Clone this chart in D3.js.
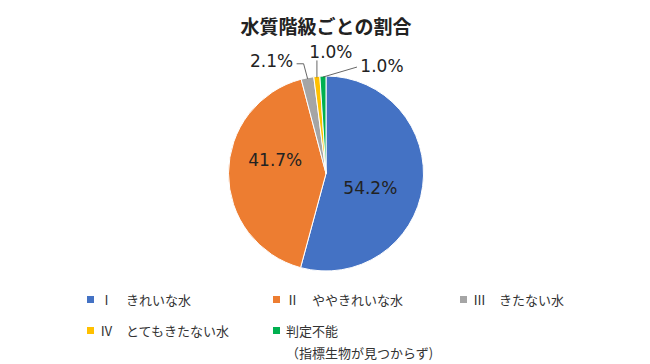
<!DOCTYPE html>
<html>
<head>
<meta charset="utf-8">
<script src="https://cdn.jsdelivr.net/npm/d3@7"></script>
<style>
  body { margin: 0; background: #fff; }
  text { font-family: "Noto Sans CJK JP", "Noto Sans", sans-serif; }
  text.pct { font-family: "DejaVu Sans", sans-serif; font-size: 17px; }
</style>
</head>
<body>
<svg id="chart" width="650" height="364"></svg>
<script>
// chart data
var categories = ["Ⅰ　きれいな水", "Ⅱ　ややきれいな水", "Ⅲ　きたない水", "Ⅳ　とてもきたない水", "判定不能"];
var subNote = ["", "", "", "", "（指標生物が見つからず)"];
var shares = [54.2, 41.7, 2.1, 1.0, 1.0];
var colors = ["#4472c4", "#ed7d31", "#a5a5a5", "#ffc000", "#00b050"];

var width = 650, height = 364;
var cx = 326, cy = 173.5, radius = 97.5;

var svg = d3.select("#chart");

svg.append("text")
  .attr("x", 326).attr("y", 34)
  .attr("text-anchor", "middle")
  .style("font-size", "19px")
  .style("font-weight", "bold")
  .attr("fill", "#222")
  .text("水質階級ごとの割合");

var pie = d3.pie().sort(null).value(d => d);
var arcs = pie(shares);
var arc = d3.arc().innerRadius(0).outerRadius(radius);

var g = svg.append("g").attr("transform", "translate(" + cx + "," + cy + ")");

g.selectAll("path")
  .data(arcs)
  .enter()
  .append("path")
  .attr("d", arc)
  .attr("fill", (d, i) => colors[i])
  .attr("stroke", "#fff")
  .attr("stroke-width", 1);

// inside labels for the big slices
var inner = d3.arc().innerRadius(radius * 0.5).outerRadius(radius * 0.5);
var innerShift = [[-4, 8], [-2, -13]];
g.selectAll("text.inlabel")
  .data(arcs.filter(d => d.value > 10))
  .enter()
  .append("text")
  .attr("class", "inlabel pct")
  .attr("x", (d, i) => inner.centroid(d)[0] + innerShift[i][0])
  .attr("y", (d, i) => inner.centroid(d)[1] + innerShift[i][1])
  .attr("text-anchor", "middle")
  .attr("dy", "0.35em")
  .attr("fill", "#222")
  .text(d => d.value.toFixed(1) + "%");

// outside labels with leader lines for the small slices
var edge = d3.arc().innerRadius(radius - 1).outerRadius(radius - 1);
var outShift = [[-36, -18], [14, -25], [59, -11]];   // label centre relative to slice edge
var small = arcs.filter(d => d.value < 10);

small.forEach(function(d, i){
  var p = edge.centroid(d);
  var lx = p[0] + outShift[i][0], ly = p[1] + outShift[i][1];
  var pts;
  if(i == 0){
    pts = [p, [p[0] - 4, ly + 3], [lx + 25, ly + 3]];
  }else if(i == 1){
    pts = [p, [p[0], ly + 8]];
  }else{
    pts = [p, [lx - 25, ly + 1]];
  }
  g.append("path")
    .attr("d", d3.line()(pts))
    .attr("fill", "none")
    .attr("stroke", "#404040")
    .attr("stroke-width", 0.8);
  g.append("text")
    .attr("class", "pct")
    .attr("x", lx).attr("y", ly)
    .attr("text-anchor", "middle")
    .attr("dy", "0.35em")
    .attr("fill", "#222")
    .text(d.value.toFixed(1) + "%");
});

// legend
var legendX = d3.scaleOrdinal().domain([0, 1, 2]).range([87, 273, 460]);
var legendY = d3.scaleOrdinal().domain([0, 1]).range([300, 331]);

var items = svg.selectAll("g.legend")
  .data(categories)
  .enter()
  .append("g")
  .attr("class", "legend")
  .attr("transform", (d, i) => "translate(" + legendX(i % 3) + "," + legendY(Math.floor(i / 3)) + ")");

items.append("rect")
  .attr("x", 0).attr("y", -4)
  .attr("width", 7).attr("height", 7)
  .attr("fill", (d, i) => colors[i]);

items.append("text")
  .attr("x", 13).attr("y", 0)
  .attr("dy", "0.35em")
  .style("font-size", "13px")
  .attr("fill", "#333")
  .text(d => d);

items.filter((d, i) => subNote[i] != "")
  .append("text")
  .attr("x", 13).attr("y", 22)
  .attr("dy", "0.35em")
  .style("font-size", "13px")
  .attr("fill", "#333")
  .text((d, i) => subNote[4]);
</script>
</body>
</html>
